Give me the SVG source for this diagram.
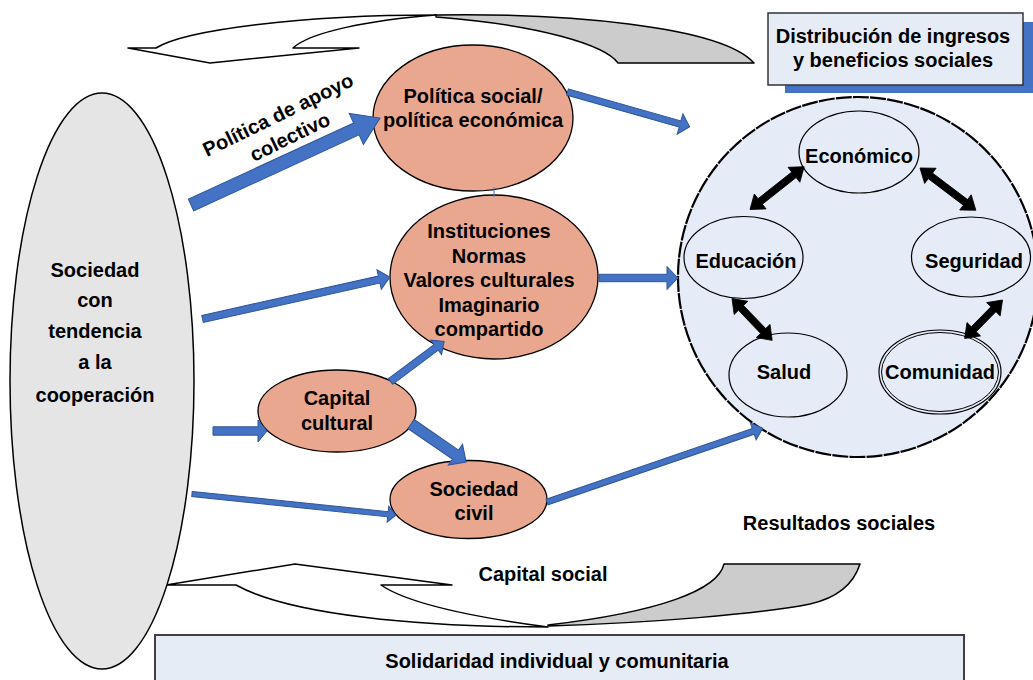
<svg xmlns="http://www.w3.org/2000/svg" width="1033" height="680" viewBox="0 0 1033 680">
<style>
.t{font-family:"Liberation Sans",Arial,sans-serif;font-weight:bold;font-size:20px;fill:#000;text-anchor:middle}
.salmon{fill:#eaa78f;stroke:#000;stroke-width:1.3}
.inner{fill:#e6ecf7;stroke:#000;stroke-width:1.2}
.blue{fill:#4472c4;stroke:#2f5597;stroke-width:1}
.blk{fill:#000;stroke:#000;stroke-width:0.8}
.band{stroke:#000;stroke-width:1.5;stroke-linejoin:round}
</style>
<rect width="1033" height="680" fill="#fff"/>

<!-- top curved arrow -->
<g id="top-arrow">
<path class="band" fill="#cccccc" d="M436,15 C560,13 720,25 754,63 L618,63 C605,45 540,25 436,17 Z"/>
<path class="band" fill="#ffffff" d="M128,48 L156,48 C185,30 300,15 436,15 C370,20 310,32 293,48 L359,48 L210,63 Z"/>
</g>

<!-- bottom curved arrow -->
<g id="bottom-arrow">
<path class="band" fill="#cccccc" d="M548,626 C650,623 760,614 810,604 Q850,595 860,564 L724,564 C718,590 660,612 548,625 Z"/>
<path class="band" fill="#ffffff" d="M166,585 L236,585 C290,615 420,627 548,627 C480,618 410,605 381,585 L452,585 L295,564 Z"/>
<text class="t" x="543" y="581">Capital social</text>
</g>

<!-- left ellipse -->
<g id="sociedad-cooperacion">
<ellipse cx="102" cy="381" rx="92" ry="288" fill="#e5e5e5" stroke="#000" stroke-width="1.5"/>
<text class="t" x="95" y="277">Sociedad</text>
<text class="t" x="95" y="307">con</text>
<text class="t" x="95" y="338">tendencia</text>
<text class="t" x="95" y="369">a la</text>
<text class="t" x="95" y="402">cooperación</text>
</g>

<!-- distribution box -->
<g id="distribucion">
<rect x="785" y="22" width="260" height="71" fill="#4472c4"/>
<rect x="768" y="13" width="255" height="72" fill="#e6ecf6" stroke="#333" stroke-width="1.5"/>
<text class="t" x="893" y="43">Distribución de ingresos</text>
<text class="t" x="893" y="67">y beneficios sociales</text>
</g>

<!-- bottom box -->
<g id="solidaridad">
<rect x="155" y="635" width="809" height="60" fill="#e6ecf6" stroke="#404040" stroke-width="2"/>
<text class="t" x="557" y="668">Solidaridad individual y comunitaria</text>
</g>

<!-- salmon nodes -->
<g id="politica-social">
<ellipse class="salmon" cx="473" cy="118" rx="100" ry="73"/>
<text class="t" x="473" y="103">Política social/</text>
<text class="t" x="473" y="127">política económica</text>
</g>
<g id="instituciones">
<ellipse class="salmon" cx="494" cy="277" rx="104" ry="82"/>
<text class="t" x="489" y="238">Instituciones</text>
<text class="t" x="489" y="263">Normas</text>
<text class="t" x="489" y="287">Valores culturales</text>
<text class="t" x="489" y="312">Imaginario</text>
<text class="t" x="489" y="336">compartido</text>
</g>
<g id="capital-cultural">
<ellipse class="salmon" cx="337" cy="411" rx="79" ry="41"/>
<text class="t" x="337" y="405">Capital</text>
<text class="t" x="337" y="430">cultural</text>
</g>
<g id="sociedad-civil">
<ellipse class="salmon" cx="468.5" cy="499.5" rx="78.5" ry="39"/>
<text class="t" x="474" y="496">Sociedad</text>
<text class="t" x="474" y="520">civil</text>
</g>

<!-- results circle -->
<g id="resultados">
<circle cx="858" cy="277" r="180" fill="#e6ecf7" stroke="#000" stroke-width="2.2" stroke-dasharray="16 1.2"/>
<text class="t" x="839" y="530">Resultados sociales</text>
</g>
<g id="economico">
<ellipse class="inner" cx="859" cy="152" rx="60" ry="41"/>
<text class="t" x="859" y="163">Económico</text>
</g>
<g id="educacion">
<ellipse class="inner" cx="743.5" cy="257.5" rx="59.5" ry="41"/>
<text class="t" x="746" y="268">Educación</text>
</g>
<g id="seguridad">
<ellipse class="inner" cx="971" cy="257" rx="59.5" ry="40"/>
<text class="t" x="974" y="268">Seguridad</text>
</g>
<g id="salud">
<ellipse class="inner" cx="788" cy="375" rx="59" ry="42"/>
<text class="t" x="784" y="379">Salud</text>
</g>
<g id="comunidad">
<ellipse class="inner" cx="940" cy="372" rx="61" ry="42"/>
<ellipse cx="940" cy="372" rx="58.5" ry="39.5" fill="none" stroke="#000" stroke-width="1"/>
<text class="t" x="940" y="379">Comunidad</text>
</g>

<!-- connectors -->
<g id="connectors">
<line x1="494" y1="187" x2="494" y2="197" stroke="#4472c4" stroke-width="1"/>
<polygon class="blue" transform="translate(191,205) rotate(-24.7)" points="0,-6.5 182,-6.5 182,-17 208,0 182,17 182,6.5 0,6.5"/>
<polygon class="blue" transform="translate(567.5,92) rotate(15.9)" points="0,-3.2 117,-3.2 117,-10.5 127,0 117,10.5 117,3.2 0,3.2"/>
<polygon class="blue" transform="translate(202.5,319) rotate(-12.6)" points="0,-3.6 181,-3.6 181,-10 192,0 181,10 181,3.6 0,3.6"/>
<polygon class="blue" transform="translate(599,278)" points="0,-3.7 68,-3.7 68,-11.5 79,0 68,11.5 68,3.7 0,3.7"/>
<polygon class="blue" transform="translate(213,431)" points="0,-4.2 45,-4.2 45,-11 54,0 45,11 45,4.2 0,4.2"/>
<polygon class="blue" transform="translate(390.5,381.5) rotate(-36.8)" points="0,-3.5 57,-3.5 57,-9 67,0 57,9 57,3.5 0,3.5"/>
<polygon class="blue" transform="translate(411,424) rotate(34.6)" points="0,-5.5 54,-5.5 54,-12.5 67,0 54,12.5 54,5.5 0,5.5"/>
<polygon class="blue" transform="translate(192,494) rotate(5.9)" points="0,-2.6 197,-2.6 197,-8 205,0 197,8 197,2.6 0,2.6"/>
<polygon class="blue" transform="translate(547,502) rotate(-18.9)" points="0,-3 218,-3 218,-9 228,0 218,9 218,3 0,3"/>
<polygon class="blk" transform="translate(750,209.5) rotate(-38.3)" points="0,0 13,-9.5 13,-3.5 56,-3.5 56,-9.5 69,0 56,9.5 56,3.5 13,3.5 13,9.5"/>
<polygon class="blk" transform="translate(920,168) rotate(37.1)" points="0,0 13,-9.5 13,-3.5 57,-3.5 57,-9.5 70,0 57,9.5 57,3.5 13,3.5 13,9.5"/>
<polygon class="blk" transform="translate(732,298.5) rotate(46.2)" points="0,0 13,-9.5 13,-3.5 45,-3.5 45,-9.5 58,0 45,9.5 45,3.5 13,3.5 13,9.5"/>
<polygon class="blk" transform="translate(1002.5,300) rotate(134.5)" points="0,0 13,-9.5 13,-3.5 41,-3.5 41,-9.5 54,0 41,9.5 41,3.5 13,3.5 13,9.5"/>
</g>

<g id="label-apoyo">
<g transform="translate(281,121) rotate(-26)">
<text class="t" x="0" y="0">Política de apoyo</text>
<text class="t" x="1" y="25">colectivo</text>
</g>
</g>
</svg>
